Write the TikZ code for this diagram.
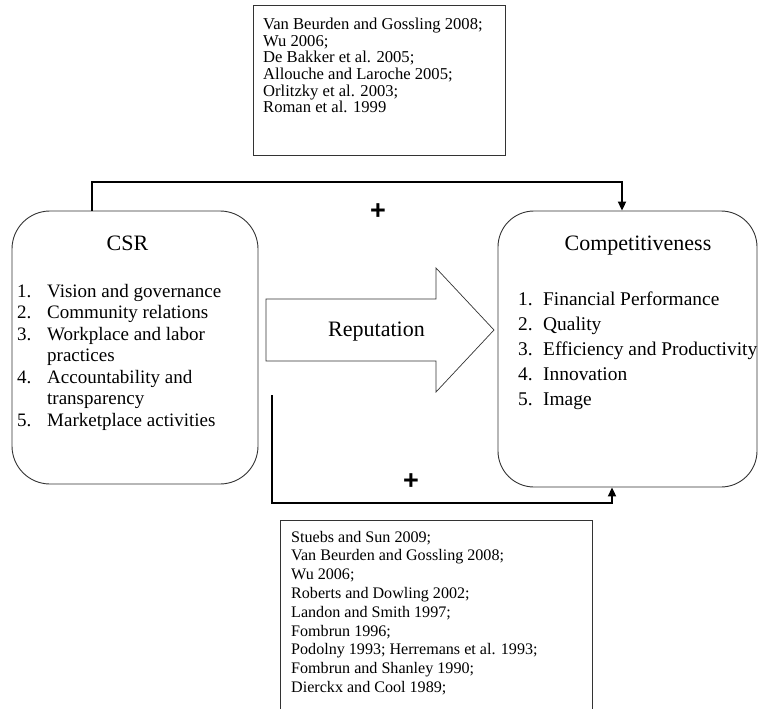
\documentclass[tikz,border=0pt]{standalone}
\usepackage{fontspec}
\setmainfont{Liberation Serif}
\newfontfamily\plusfont{Liberation Sans}
\usetikzlibrary{arrows.meta}
\begin{document}
\begin{tikzpicture}[x=1pt,y=-1pt,
  box/.style={draw=black!80,line width=0.9pt,inner sep=0pt},
  rbox/.style={box,rounded corners=38pt},
  conn/.style={line width=2pt,-{Triangle[length=9pt,width=8pt]}},
  txt/.style={inner sep=0pt,anchor=base west,align=left},
  reffont/.style={font=\fontsize{16.6}{16.7}\selectfont},
  reffontb/.style={font=\fontsize{16.1}{18.8}\selectfont},
  titlefont/.style={font=\fontsize{22}{24}\selectfont},
  plussign/.style={inner sep=0pt,font=\plusfont\bfseries\fontsize{27}{27}\selectfont}]
\clip (0,0) rectangle (758,709);
% boxes
\node[box,minimum width=252pt,minimum height=150pt] (refA) at (379,80) {};
\node[rbox,minimum width=246pt,minimum height=273pt] (csr) at (135,347.5) {};
\node[rbox,rounded corners=36pt,minimum width=259pt,minimum height=276pt] (comp) at (627.5,349) {};
\node[box,minimum width=312pt,minimum height=230pt,anchor=north west] (refB) at (280,520) {};
% reputation arrow
\draw[draw=black!80,line width=0.7pt] (266,299) -- (436,299) -- (436,268) -- (494,330)
  -- (436,392) -- (436,361) -- (266,361) -- cycle;
\node[txt,titlefont] (rep) at (328,336) {Reputation};
% texts (base anchor = baseline of the last line)
\node[txt,reffont] (refAtxt) at (263,113) {Van Beurden and Gossling 2008;\\Wu 2006;\\De Bakker et al. 2005;\\Allouche and Laroche 2005;\\Orlitzky et al. 2003;\\Roman et al. 1999};
\node[txt,reffontb] (refBtxt) at (291,692.4) {Stuebs and Sun 2009;\\Van Beurden and Gossling 2008;\\Wu 2006;\\Roberts and Dowling 2002;\\Landon and Smith 1997;\\Fombrun 1996;\\Podolny 1993; Herremans et al. 1993;\\Fombrun and Shanley 1990;\\Dierckx and Cool 1989;};
\node[titlefont,inner sep=0pt,anchor=base] (csrtitle) at (127.5,250) {CSR};
\node[titlefont,inner sep=0pt,anchor=base] (comptitle) at (638,250) {Competitiveness};
\node[txt,font=\fontsize{19}{21.5}\selectfont] (csrlist) at (17,426) {\makebox[30pt][l]{1.}Vision and governance\\\makebox[30pt][l]{2.}Community relations\\\makebox[30pt][l]{3.}Workplace and labor\\\hspace*{30pt}practices\\\makebox[30pt][l]{4.}Accountability and\\\hspace*{30pt}transparency\\\makebox[30pt][l]{5.}Marketplace activities};
\node[txt,font=\fontsize{19.4}{25}\selectfont] (complist) at (518,405) {\makebox[25pt][l]{1.}Financial Performance\\\makebox[25pt][l]{2.}Quality\\\makebox[25pt][l]{3.}Efficiency and Productivity\\\makebox[25pt][l]{4.}Innovation\\\makebox[25pt][l]{5.}Image};
% connectors
\coordinate (t1) at (92,182);
\coordinate (t2) at (622,182);
\draw[conn] (t1 |- csr.north) -- (t1) -- (t2) -- (t2 |- comp.north);
\coordinate (b0) at (272,395);
\coordinate (b1) at (272,503);
\coordinate (b2) at (612,503);
\draw[conn] (b0) -- (b1) -- (b2) -- (b2 |- comp.south);
\node[plussign] (plusA) at (378,212) {+};
\node[plussign] (plusB) at (411,481.5) {+};
\end{tikzpicture}
\end{document}
